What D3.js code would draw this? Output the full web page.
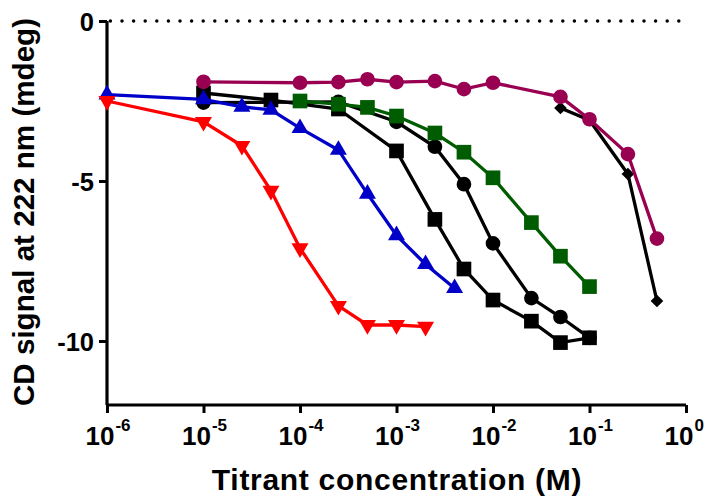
<!DOCTYPE html>
<html>
<head>
<meta charset="utf-8">
<script src="https://cdn.jsdelivr.net/npm/d3@7"></script>
<style>
  body { margin: 0; background: #fff; }
  text { font-family: "Liberation Sans", Arial, sans-serif; font-weight: bold; }
</style>
</head>
<body>
<script>
// titrant concentrations (M) and CD signal (mdeg) per series
var redX    = [1e-6, 1e-5, 2.5e-5, 5e-5, 1e-4, 2.5e-4, 5e-4, 1e-3, 2e-3];
var redY    = [-2.5, -3.15, -3.9, -5.3, -7.1, -8.9, -9.5, -9.5, -9.55];

var blueX   = [1e-6, 1e-5, 2.5e-5, 5e-5, 1e-4, 2.5e-4, 5e-4, 1e-3, 2e-3, 4e-3];
var blueY   = [-2.3, -2.45, -2.68, -2.78, -3.35, -4.03, -5.4, -6.7, -7.6, -8.35];

var greenX  = [1e-4, 2.5e-4, 5e-4, 1e-3, 2.5e-3, 5e-3, 1e-2, 2.5e-2, 5e-2, 1e-1];
var greenY  = [-2.5, -2.6, -2.7, -2.97, -3.5, -4.1, -4.9, -6.3, -7.35, -8.3];

var circX   = [1e-5, 2.5e-4, 1e-3, 2.5e-3, 5e-3, 1e-2, 2.5e-2, 5e-2, 1e-1];
var circY   = [-2.55, -2.53, -3.15, -3.93, -5.1, -6.95, -8.66, -9.25, -9.9];

var sqX     = [1e-5, 5e-5, 2.5e-4, 1e-3, 2.5e-3, 5e-3, 1e-2, 2.5e-2, 5e-2, 1e-1];
var sqY     = [-2.25, -2.47, -2.75, -4.06, -6.2, -7.75, -8.72, -9.38, -10.05, -9.9];

var maroonX = [1e-5, 1e-4, 2.5e-4, 5e-4, 1e-3, 2.5e-3, 5e-3, 1e-2, 5e-2, 1e-1, 2.5e-1, 5e-1];
var maroonY = [-1.9, -1.93, -1.91, -1.82, -1.91, -1.88, -2.13, -1.93, -2.37, -3.07, -4.16, -6.8];

var diaX    = [5e-2, 1e-1, 2.5e-1, 5e-1];
var diaY    = [-2.72, -3.1, -4.78, -8.75];

var xTicks = [1e-6, 1e-5, 1e-4, 1e-3, 1e-2, 1e-1, 1e0];
var yTicks = [0, -5, -10];

var margin = {top: 21, right: 25, bottom: 94, left: 107},
    width = 711 - margin.left - margin.right,
    height = 499 - margin.top - margin.bottom;

var x = d3.scaleLog().domain([1e-6, 1]).range([0, width]);
var y = d3.scaleLinear().domain([-12, 0]).range([height, 0]);

var svg = d3.select("body").append("svg")
    .attr("width", 711)
    .attr("height", 499);
var g = svg.append("g")
    .attr("transform", "translate(" + margin.left + "," + margin.top + ")");

// dotted zero line
g.append("line")
    .attr("x1", 0).attr("x2", width)
    .attr("y1", y(0)).attr("y2", y(0))
    .attr("stroke", "#000")
    .attr("stroke-width", 3.5)
    .attr("stroke-linecap", "round")
    .attr("stroke-dasharray", "0,11.6")
    .attr("stroke-dashoffset", -15);

// x axis
var xAxis = g.append("g")
    .attr("transform", "translate(0," + height + ")")
    .call(d3.axisBottom(x).tickValues(xTicks).tickSize(8).tickSizeOuter(0).tickFormat(function () { return ""; }));

// y axis
var yAxis = g.append("g")
    .call(d3.axisLeft(y).tickValues(yTicks).tickSize(8).tickSizeOuter(0).tickFormat(function (d) { return String(d); }));

[xAxis, yAxis].forEach(function (a) {
    a.select(".domain").attr("stroke-width", 3.2).attr("stroke", "#000");
    a.selectAll(".tick line").attr("stroke-width", 3).attr("stroke", "#000");
    a.selectAll(".tick text").attr("fill", "#000");
});
yAxis.select(".domain").attr("d", "M0," + height + "V0");
xAxis.select(".domain").attr("d", "M0,0H" + width);
yAxis.selectAll(".tick text").attr("font-size", 25.5).attr("x", -13).attr("dy", "0.36em");

// x tick labels as 10 with superscript exponent
xAxis.selectAll(".tick text").each(function (d) {
    var t = d3.select(this).attr("font-size", 26).attr("y", 40).attr("dy", null)
        .attr("text-anchor", "start").attr("x", -22);
    t.append("tspan").text("10");
    t.append("tspan").attr("font-size", 17).attr("dx", 1).attr("dy", -14)
        .text(String(Math.round(Math.log10(d))));
});

// axis titles
svg.append("text")
    .attr("x", 397)
    .attr("y", 490)
    .attr("text-anchor", "middle")
    .attr("font-size", 30)
    .attr("letter-spacing", 0.7)
    .text("Titrant concentration (M)");

svg.append("text")
    .attr("transform", "translate(34,212) rotate(-90)")
    .attr("text-anchor", "middle")
    .attr("font-size", 29.6)
    .text("CD signal at 222 nm (mdeg)");

function zip(xs, ys) {
    return xs.map(function (v, i) { return {x: v, y: ys[i]}; });
}

var series = [
    {xs: diaX, ys: diaY, color: "#000", shape: d3.symbolSquare, size: 80, rot: 45},
    {xs: sqX, ys: sqY, color: "#000", shape: d3.symbolSquare, size: 215, rot: 0},
    {xs: circX, ys: circY, color: "#000", shape: d3.symbolCircle, size: 170, rot: 0},
    {xs: greenX, ys: greenY, color: "#005c00", shape: d3.symbolSquare, size: 215, rot: 0},
    {xs: blueX, ys: blueY, color: "#0000c8", shape: d3.symbolTriangle, size: 125, rot: 0},
    {xs: redX, ys: redY, color: "#ff0000", shape: d3.symbolTriangle, size: 125, rot: 180},
    {xs: maroonX, ys: maroonY, color: "#9a0052", shape: d3.symbolCircle, size: 170, rot: 0}
];

var line = d3.line()
    .x(function (d) { return x(d.x); })
    .y(function (d) { return y(d.y); });

series.forEach(function (s) {
    var pts = zip(s.xs, s.ys);
    var sg = g.append("g");
    sg.append("path")
        .datum(pts)
        .attr("fill", "none")
        .attr("stroke", s.color)
        .attr("stroke-width", 3.3)
        .attr("d", line);
    sg.selectAll(".pt")
        .data(pts)
        .enter().append("path")
        .attr("class", "pt")
        .attr("fill", s.color)
        .attr("d", d3.symbol().type(s.shape).size(s.size))
        .attr("transform", function (d) {
            return "translate(" + x(d.x) + "," + y(d.y) + ") rotate(" + s.rot + ")";
        });
});
</script>
</body>
</html>
